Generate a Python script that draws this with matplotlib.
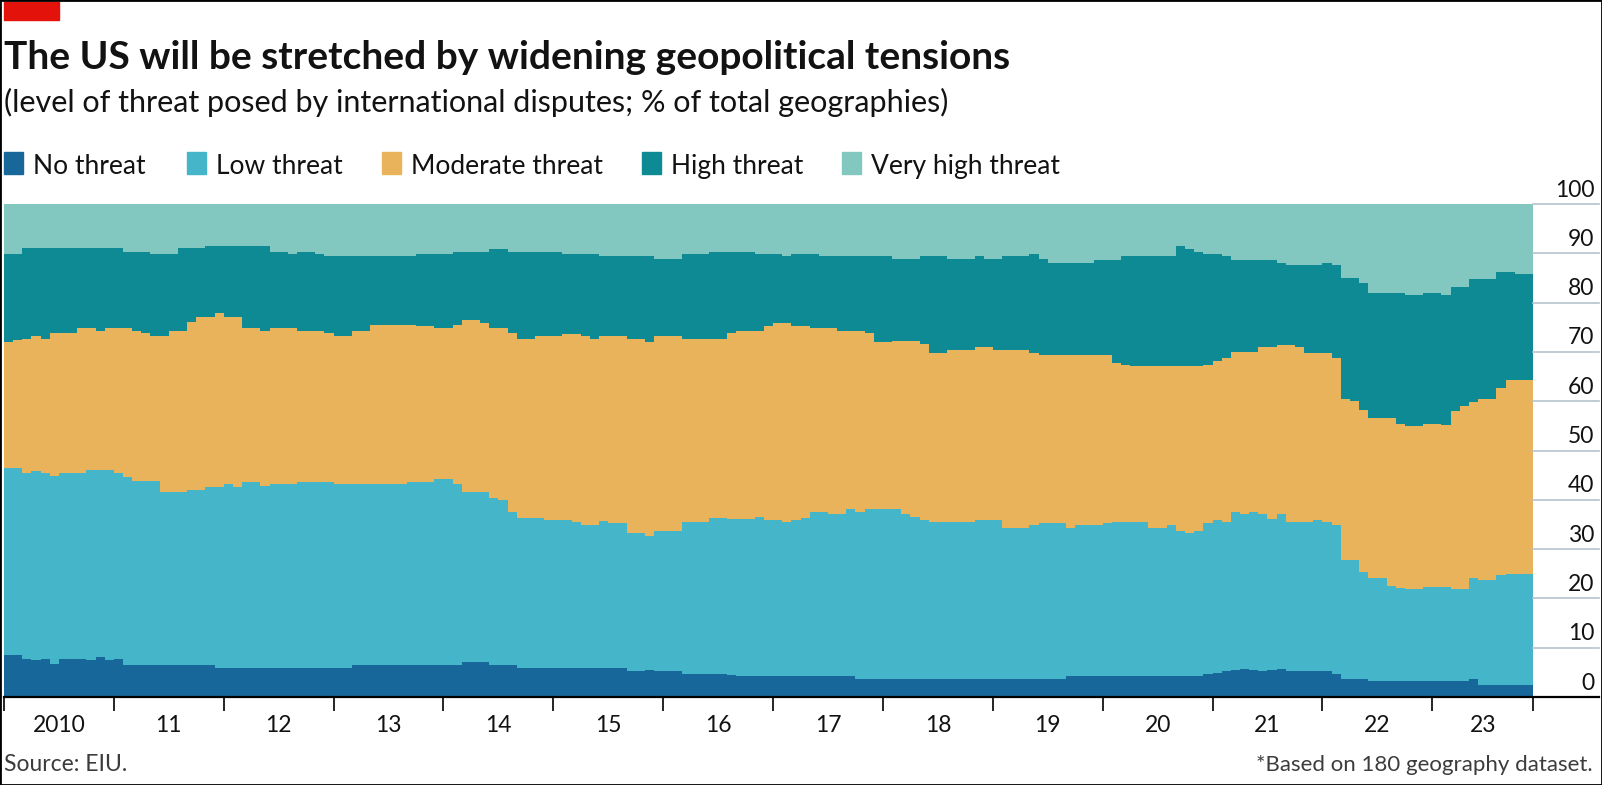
import matplotlib
matplotlib.use("Agg")
import matplotlib.pyplot as plt
from matplotlib.patches import Rectangle
import numpy as np

plt.rcParams["font.family"] = ["Lato", "DejaVu Sans"]

# monthly readings, Jan 2010 - Nov 2023
# upper edge of each stacked band, % of total geographies
top_no = [
    8.6, 8.6, 7.7, 7.5, 7.7, 6.6, 7.7, 7.7, 7.7, 7.5, 8.1, 7.5,
    7.7, 6.4, 6.4, 6.4, 6.4, 6.4, 6.4, 6.4, 6.4, 6.4, 6.4, 5.8,
    5.8, 5.8, 5.8, 5.8, 5.8, 5.8, 5.8, 5.8, 5.8, 5.8, 5.8, 5.8,
    5.8, 5.8, 6.4, 6.4, 6.4, 6.4, 6.4, 6.4, 6.4, 6.4, 6.4, 6.4,
    6.4, 6.4, 7.1, 7.1, 7.1, 6.4, 6.4, 6.4, 5.8, 5.8, 5.8, 5.8,
    5.8, 5.8, 5.8, 5.8, 5.8, 5.8, 5.8, 5.8, 5.2, 5.2, 5.4, 5.2,
    5.2, 5.2, 4.7, 4.7, 4.7, 4.7, 4.7, 4.4, 4.2, 4.2, 4.2, 4.2,
    4.2, 4.2, 4.2, 4.2, 4.2, 4.2, 4.2, 4.2, 4.2, 3.6, 3.6, 3.6,
    3.6, 3.6, 3.6, 3.6, 3.6, 3.6, 3.6, 3.6, 3.6, 3.6, 3.6, 3.6,
    3.6, 3.6, 3.6, 3.6, 3.6, 3.6, 3.6, 3.6, 4.2, 4.2, 4.2, 4.2,
    4.2, 4.2, 4.2, 4.2, 4.2, 4.2, 4.2, 4.2, 4.2, 4.2, 4.2, 4.7,
    4.9, 5.2, 5.4, 5.6, 5.4, 5.3, 5.4, 5.6, 5.2, 5.2, 5.2, 5.2,
    5.2, 4.7, 3.6, 3.6, 3.6, 3.2, 3.2, 3.2, 3.2, 3.2, 3.2, 3.2,
    3.2, 3.2, 3.2, 3.2, 3.7, 2.5, 2.5, 2.5, 2.5, 2.5, 2.5,
]
top_low = [
    46.5, 46.5, 45.4, 45.9, 45.4, 44.9, 45.4, 45.4, 45.4, 46.0, 46.0, 46.0,
    45.4, 44.7, 43.8, 43.8, 43.8, 41.5, 41.5, 41.5, 42.0, 42.0, 42.5, 42.5,
    43.2, 42.5, 43.7, 43.7, 42.7, 43.2, 43.2, 43.2, 43.7, 43.7, 43.7, 43.7,
    43.2, 43.2, 43.2, 43.2, 43.2, 43.2, 43.2, 43.2, 43.7, 43.7, 43.7, 44.2,
    44.2, 43.2, 41.5, 41.5, 41.5, 40.4, 39.9, 37.6, 36.4, 36.4, 36.4, 36.0,
    36.0, 35.9, 35.4, 34.9, 34.9, 35.7, 35.2, 35.2, 33.2, 33.2, 32.7, 33.7,
    33.7, 33.7, 35.4, 35.4, 35.4, 36.4, 36.4, 36.1, 36.1, 36.1, 36.6, 35.9,
    35.9, 35.4, 35.9, 36.4, 37.6, 37.6, 37.1, 37.1, 38.1, 37.6, 38.1, 38.1,
    38.1, 38.1, 37.1, 36.6, 35.9, 35.4, 35.4, 35.4, 35.4, 35.4, 35.9, 35.9,
    35.9, 34.3, 34.3, 34.3, 34.8, 35.2, 35.2, 35.2, 34.2, 34.8, 34.8, 34.8,
    35.2, 35.4, 35.4, 35.4, 35.4, 34.3, 34.3, 34.8, 33.7, 33.2, 33.7, 35.2,
    35.9, 35.4, 37.6, 37.1, 37.6, 37.1, 36.1, 37.1, 35.4, 35.4, 35.4, 35.9,
    35.4, 34.9, 27.8, 27.8, 25.4, 24.2, 24.2, 22.6, 22.2, 22.0, 22.0, 22.4,
    22.4, 22.4, 22.0, 22.0, 24.2, 23.7, 23.7, 24.7, 24.9, 24.9, 24.9,
]
top_moderate = [
    72.0, 72.5, 72.7, 73.2, 72.7, 73.8, 73.8, 73.8, 74.9, 74.9, 74.3, 74.9,
    74.9, 74.9, 74.3, 73.8, 73.2, 73.2, 74.3, 74.3, 76.1, 77.1, 77.1, 77.8,
    77.1, 77.1, 74.9, 74.9, 74.3, 74.9, 74.9, 74.9, 74.3, 74.3, 74.3, 73.8,
    73.2, 73.2, 74.3, 74.3, 75.4, 75.4, 75.4, 75.4, 75.4, 75.2, 75.2, 74.9,
    74.9, 75.4, 76.5, 76.5, 75.9, 74.9, 74.9, 73.8, 72.7, 72.7, 73.2, 73.2,
    73.2, 73.6, 73.6, 73.2, 72.7, 73.2, 73.2, 73.2, 72.7, 72.7, 72.0, 73.2,
    73.2, 73.2, 72.7, 72.7, 72.7, 72.7, 72.7, 73.8, 74.3, 74.3, 74.3, 75.2,
    75.9, 75.9, 75.2, 75.2, 74.9, 74.9, 74.9, 74.3, 74.3, 74.3, 73.8, 72.0,
    72.0, 72.3, 72.3, 72.3, 71.6, 69.8, 69.8, 70.4, 70.4, 70.4, 70.9, 70.9,
    70.4, 70.4, 70.4, 70.4, 69.8, 69.3, 69.3, 69.3, 69.3, 69.3, 69.3, 69.3,
    69.3, 67.8, 67.3, 67.1, 67.1, 67.1, 67.1, 67.1, 67.1, 67.1, 67.1, 67.4,
    68.1, 68.8, 70.0, 70.0, 70.0, 70.9, 70.9, 71.5, 71.5, 70.9, 69.8, 69.8,
    69.8, 68.8, 60.5, 60.0, 58.3, 56.6, 56.6, 56.6, 55.4, 54.9, 54.9, 55.4,
    55.4, 55.1, 58.1, 59.1, 59.8, 60.5, 60.5, 62.7, 64.2, 64.2, 64.2,
]
top_high = [
    89.9, 89.9, 91.0, 91.0, 91.0, 91.0, 91.0, 91.0, 91.0, 91.0, 91.0, 91.0,
    91.0, 90.3, 90.3, 90.3, 89.9, 89.9, 89.9, 91.0, 91.0, 91.0, 91.5, 91.5,
    91.5, 91.5, 91.5, 91.5, 91.5, 90.3, 90.3, 89.9, 90.3, 90.3, 89.9, 89.4,
    89.4, 89.4, 89.4, 89.4, 89.4, 89.4, 89.4, 89.4, 89.4, 89.9, 89.9, 89.9,
    89.9, 90.3, 90.3, 90.3, 90.3, 90.9, 90.9, 90.3, 90.3, 90.3, 90.3, 90.3,
    90.3, 89.9, 89.9, 89.9, 89.9, 89.4, 89.4, 89.4, 89.4, 89.4, 89.4, 88.8,
    88.8, 88.8, 89.9, 89.9, 89.9, 90.3, 90.3, 90.3, 90.3, 90.3, 89.9, 89.9,
    89.9, 89.4, 89.9, 89.9, 89.9, 89.4, 89.4, 89.4, 89.4, 89.4, 89.4, 89.4,
    89.4, 88.8, 88.8, 88.8, 89.4, 89.4, 89.4, 88.8, 88.8, 88.8, 89.4, 88.8,
    88.8, 89.4, 89.4, 89.4, 89.9, 88.8, 88.1, 88.1, 88.1, 88.1, 88.1, 88.6,
    88.6, 88.6, 89.4, 89.4, 89.4, 89.4, 89.4, 89.4, 91.5, 90.8, 90.3, 89.9,
    89.9, 89.4, 88.6, 88.6, 88.6, 88.6, 88.6, 88.1, 87.6, 87.6, 87.6, 87.6,
    88.1, 87.6, 84.9, 84.9, 84.0, 81.9, 81.9, 81.9, 81.9, 81.6, 81.6, 81.9,
    81.9, 81.6, 83.1, 83.1, 84.7, 84.7, 84.7, 86.2, 86.2, 85.9, 85.9,
]

categories = ["No threat", "Low threat", "Moderate threat", "High threat", "Very high threat"]
colours = ["#17679a", "#45b5ca", "#e8b35a", "#0e8a94", "#83c7c1"]
year_labels = ["2010", "11", "12", "13", "14", "15", "16", "17", "18", "19", "20", "21", "22", "23"]

W, H = 1602, 785
fig = plt.figure(figsize=(W / 100, H / 100), dpi=100)
ax = fig.add_axes([4 / W, 1 - 697 / H, 1529 / W, 493 / H])

n = len(top_no)
x = np.arange(n + 1)
tops = [top_no, top_low, top_moderate, top_high, [100.0] * n]

# paint from the back so bands never leave seams
for top, col in reversed(list(zip(tops, colours))):
    y = np.append(top, top[-1])
    ax.fill_between(x, 0, y, step="post", color=col, lw=0)

ax.set_xlim(0, n)
ax.set_ylim(0, 100)
for s in ax.spines.values():
    s.set_visible(False)
ax.set_yticks([])

# gridlines and labels sit to the right of the data
ytr = ax.get_yaxis_transform()
for v in range(0, 101, 10):
    ax.plot([1, 1.043], [v, v], transform=ytr, color="#b5c4cd", lw=1.2, clip_on=False)
    ax.text(1.040, v + 0.7, str(v), transform=ytr, ha="right", va="bottom",
            fontsize=16.5, color="#121212")
ax.plot([0, 1.043], [0, 0], transform=ytr, color="black", lw=1.6, clip_on=False)

# year ticks and centred labels
ticks = list(range(0, n, 12)) + [n]
ax.set_xticks(ticks)
ax.set_xticklabels([])
ax.tick_params(axis="x", which="major", length=10, width=1.2, color="black")
mids = [(a + b) / 2 for a, b in zip(ticks[:-1], ticks[1:])]
ax.set_xticks(mids, minor=True)
ax.set_xticklabels(year_labels, minor=True, fontsize=16.5, color="#121212")
ax.tick_params(axis="x", which="minor", length=0, pad=13)

# header
fig.patches.append(Rectangle((4 / W, 1 - 20 / H), 55 / W, 18 / H,
                             transform=fig.transFigure, color="#e3120b"))
fig.text(4 / W, 1 - 69 / H, "The US will be stretched by widening geopolitical tensions",
         fontsize=28, fontweight="bold", color="#121212", va="baseline")
fig.text(4 / W, 1 - 112 / H,
         "(level of threat posed by international disputes; % of total geographies)",
         fontsize=22, color="#121212", va="baseline")

# legend
box_x = [4, 187, 382, 642, 842]
for bx, lab, col in zip(box_x, categories, colours):
    fig.patches.append(Rectangle((bx / W, 1 - 174 / H), 19 / W, 22 / H,
                                 transform=fig.transFigure, color=col))
    fig.text((bx + 29) / W, 1 - 174 / H, lab, fontsize=19, color="#121212", va="baseline")

fig.text(4 / W, 1 - 771 / H, "Source: EIU.", fontsize=16.5, color="#3c3c3c", va="baseline")
fig.text(1593 / W, 1 - 771 / H, "*Based on 180 geography dataset.", fontsize=16,
         color="#3c3c3c", va="baseline", ha="right")

fig.patches.append(Rectangle((0, 0), 1, 1, transform=fig.transFigure, fill=False,
                             edgecolor="black", lw=2))

fig.savefig("out.png", dpi=100)
